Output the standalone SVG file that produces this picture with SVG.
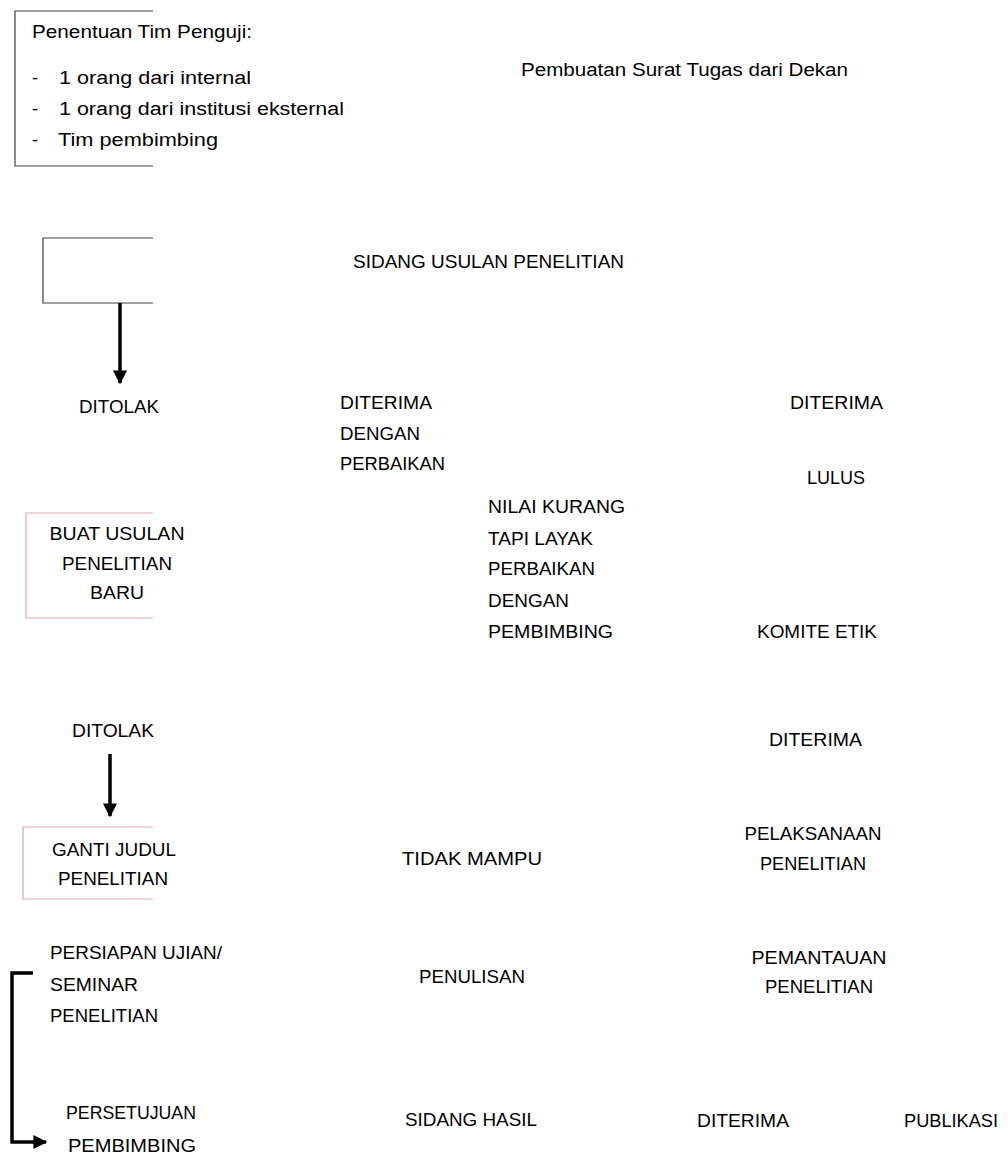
<svg xmlns="http://www.w3.org/2000/svg" width="1008" height="1157" viewBox="0 0 1008 1157">
  <style>
    text { font-family: "Liberation Sans", Arial, sans-serif; font-size: 18px; fill: #000; }
    .mid { text-anchor: middle; }
    .frame { fill: none; stroke: #404040; stroke-width: 1.2; }
    .pink { fill: none; stroke: #e6a3a6; stroke-width: 1.2; }
    .conn { fill: none; stroke: #000; stroke-width: 3.5; }
  </style>
  <defs>
    <marker id="head" viewBox="0 0 10 10" refX="9" refY="5" markerWidth="4" markerHeight="4" orient="auto" markerUnits="strokeWidth">
      <path d="M0,0 L10,5 L0,10 z" fill="#000"/>
    </marker>
  </defs>
  <rect width="1008" height="1157" fill="#fff"/>

  <g id="tim-penguji">
    <path class="frame" d="M153,11 H15 V166 H153"/>
    <text x="32" y="38" textLength="220" lengthAdjust="spacingAndGlyphs">Penentuan Tim Penguji:</text>
    <text x="32" y="84">-</text><text x="59" y="84" textLength="192" lengthAdjust="spacingAndGlyphs">1 orang dari internal</text>
    <text x="32" y="115">-</text><text x="59" y="115" textLength="285" lengthAdjust="spacingAndGlyphs">1 orang dari institusi eksternal</text>
    <text x="32" y="146">-</text><text x="58" y="146" textLength="160" lengthAdjust="spacingAndGlyphs">Tim pembimbing</text>
  </g>
  <g id="surat-tugas"><text x="521" y="76" textLength="327" lengthAdjust="spacingAndGlyphs">Pembuatan Surat Tugas dari Dekan</text></g>

  <g id="box-sidang"><path class="frame" d="M153,238 H43 V303 H153"/></g>
  <g id="sidang-usulan"><text x="353" y="268" textLength="271" lengthAdjust="spacingAndGlyphs">SIDANG USULAN PENELITIAN</text></g>

  <g id="ditolak-1"><text x="79" y="413" textLength="80" lengthAdjust="spacingAndGlyphs">DITOLAK</text></g>
  <g id="diterima-perbaikan">
    <text x="340" y="409" textLength="92" lengthAdjust="spacingAndGlyphs">DITERIMA</text>
    <text x="340" y="440" textLength="80" lengthAdjust="spacingAndGlyphs">DENGAN</text>
    <text x="340" y="470" textLength="105" lengthAdjust="spacingAndGlyphs">PERBAIKAN</text>
  </g>
  <g id="diterima-1"><text x="790" y="409" textLength="93" lengthAdjust="spacingAndGlyphs">DITERIMA</text></g>
  <g id="lulus"><text x="807" y="484" textLength="58" lengthAdjust="spacingAndGlyphs">LULUS</text></g>

  <g id="nilai-kurang">
    <text x="488" y="513" textLength="137" lengthAdjust="spacingAndGlyphs">NILAI KURANG</text>
    <text x="488" y="545" textLength="105" lengthAdjust="spacingAndGlyphs">TAPI LAYAK</text>
    <text x="488" y="575" textLength="107" lengthAdjust="spacingAndGlyphs">PERBAIKAN</text>
    <text x="488" y="607" textLength="81" lengthAdjust="spacingAndGlyphs">DENGAN</text>
    <text x="488" y="638" textLength="125" lengthAdjust="spacingAndGlyphs">PEMBIMBING</text>
  </g>

  <g id="usulan-baru">
    <path class="pink" d="M153,513 H26 V618 H153"/>
    <text class="mid" x="117" y="540" textLength="135" lengthAdjust="spacingAndGlyphs">BUAT USULAN</text>
    <text class="mid" x="117" y="570" textLength="110" lengthAdjust="spacingAndGlyphs">PENELITIAN</text>
    <text class="mid" x="117" y="599" textLength="54" lengthAdjust="spacingAndGlyphs">BARU</text>
  </g>
  <g id="komite-etik"><text x="757" y="638" textLength="120" lengthAdjust="spacingAndGlyphs">KOMITE ETIK</text></g>

  <g id="ditolak-2"><text x="72" y="737" textLength="82" lengthAdjust="spacingAndGlyphs">DITOLAK</text></g>
  <g id="diterima-2"><text x="769" y="746" textLength="93" lengthAdjust="spacingAndGlyphs">DITERIMA</text></g>

  <g id="ganti-judul">
    <path class="pink" d="M153,827 H23 V899 H153"/>
    <text class="mid" x="114" y="856" textLength="124" lengthAdjust="spacingAndGlyphs">GANTI JUDUL</text>
    <text class="mid" x="113" y="885" textLength="110" lengthAdjust="spacingAndGlyphs">PENELITIAN</text>
  </g>
  <g id="tidak-mampu"><text x="402" y="865" textLength="140" lengthAdjust="spacingAndGlyphs">TIDAK MAMPU</text></g>
  <g id="pelaksanaan">
    <text class="mid" x="813" y="840" textLength="137" lengthAdjust="spacingAndGlyphs">PELAKSANAAN</text>
    <text class="mid" x="813" y="870" textLength="106" lengthAdjust="spacingAndGlyphs">PENELITIAN</text>
  </g>

  <g id="persiapan">
    <text x="50" y="959" textLength="172" lengthAdjust="spacingAndGlyphs">PERSIAPAN UJIAN/</text>
    <text x="50" y="991" textLength="88" lengthAdjust="spacingAndGlyphs">SEMINAR</text>
    <text x="50" y="1022" textLength="108" lengthAdjust="spacingAndGlyphs">PENELITIAN</text>
  </g>
  <g id="penulisan"><text x="419" y="983" textLength="106" lengthAdjust="spacingAndGlyphs">PENULISAN</text></g>
  <g id="pemantauan">
    <text class="mid" x="819" y="964" textLength="135" lengthAdjust="spacingAndGlyphs">PEMANTAUAN</text>
    <text class="mid" x="819" y="993" textLength="108" lengthAdjust="spacingAndGlyphs">PENELITIAN</text>
  </g>

  <g id="persetujuan">
    <text class="mid" x="131" y="1119" textLength="130" lengthAdjust="spacingAndGlyphs">PERSETUJUAN</text>
    <text class="mid" x="132" y="1152" textLength="128" lengthAdjust="spacingAndGlyphs">PEMBIMBING</text>
  </g>
  <g id="sidang-hasil"><text x="405" y="1126" textLength="132" lengthAdjust="spacingAndGlyphs">SIDANG HASIL</text></g>
  <g id="diterima-3"><text x="697" y="1127" textLength="92" lengthAdjust="spacingAndGlyphs">DITERIMA</text></g>
  <g id="publikasi"><text x="904" y="1127" textLength="94" lengthAdjust="spacingAndGlyphs">PUBLIKASI</text></g>

  <g id="connectors">
    <path class="conn" d="M120,303 V383" marker-end="url(#head)"/>
    <path class="conn" d="M110,754 V816" marker-end="url(#head)"/>
    <path class="conn" d="M33,973 H12 V1142 H46" marker-end="url(#head)"/>
  </g>
</svg>
